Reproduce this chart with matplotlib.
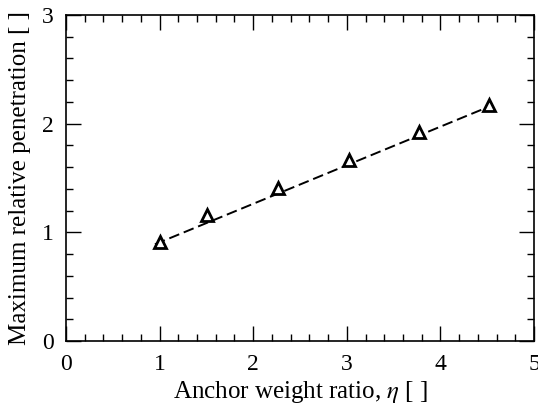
import matplotlib
matplotlib.use("Agg")
import matplotlib.pyplot as plt
from matplotlib.ticker import MultipleLocator

# data
eta = [1.0, 1.51, 2.27, 3.02, 3.77, 4.52]
penetration = [0.91, 1.16, 1.41, 1.665, 1.92, 2.17]

# linear fit line (end points)
fit_x = [0.95, 4.50]
fit_y = [0.89, 2.15]

plt.rcParams['font.family'] = ['Liberation Serif', 'DejaVu Serif']
plt.rcParams['mathtext.fontset'] = 'stix'

fig = plt.figure(figsize=(5.38, 4.11), dpi=100)
ax = fig.add_axes([0.1227, 0.1703, 0.8699, 0.7932])

ax.plot(fit_x, fit_y, color='black', linestyle=(0, (5.5, 2.5)), linewidth=1.4)
ax.plot(eta, penetration, linestyle='none', marker='^', markersize=8,
        markerfacecolor='white', markeredgecolor='black', markeredgewidth=2.0)

ax.set_xlim(0, 5)
ax.set_ylim(0, 3)
ax.xaxis.set_major_locator(MultipleLocator(1))
ax.xaxis.set_minor_locator(MultipleLocator(0.2))
ax.yaxis.set_major_locator(MultipleLocator(1))
ax.yaxis.set_minor_locator(MultipleLocator(0.2))

ax.tick_params(which='both', direction='in', top=True, right=True,
               labelsize=17, width=1.0)
ax.tick_params(axis='x', pad=9)
ax.tick_params(axis='y', pad=9)
ax.tick_params(which='major', length=11)
ax.tick_params(which='minor', length=5)
for s in ax.spines.values():
    s.set_linewidth(1.2)

ax.set_xlabel(r'Anchor weight ratio, $\eta$ [ ]', fontsize=18, labelpad=3)
ax.set_ylabel('Maximum relative penetration [ ]', fontsize=18, labelpad=8)

fig.savefig('out.png', dpi=100)
